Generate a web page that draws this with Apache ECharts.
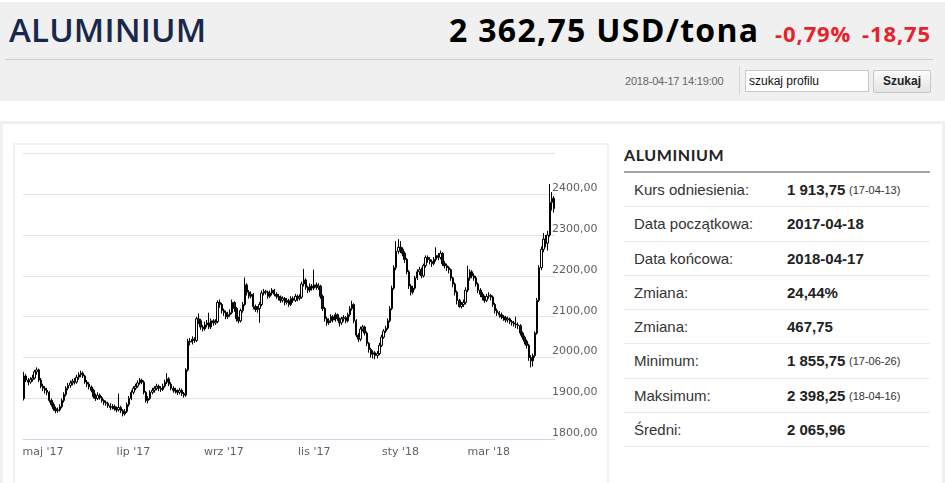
<!DOCTYPE html>
<html>
<head>
<meta charset="utf-8">
<script src="https://cdn.jsdelivr.net/npm/echarts@6/dist/echarts.min.js"></script>
<style>
html,body{margin:0;padding:0;background:#fff;}
body{width:945px;height:483px;overflow:hidden;position:relative;font-family:"Liberation Sans",Arial,sans-serif;}
.abs{position:absolute;}
#hdr{left:0;top:2px;width:945px;height:99px;background:#f0f0f0;}
#title{left:9px;top:9px;font-family:"Open Sans";font-weight:600;font-size:33px;line-height:42px;color:#18284a;letter-spacing:0.2px;}
#price{left:449px;top:8px;font-family:"Open Sans";font-weight:700;font-size:32px;line-height:44px;color:#000;letter-spacing:1.3px;white-space:nowrap;}
.red{font-family:"Open Sans";font-weight:700;font-size:22px;line-height:30px;color:#e8212b;white-space:nowrap;letter-spacing:0.9px;}
#sep{left:5px;top:59px;width:928px;height:1px;background:#d0d0d0;}
#time{left:625px;top:74px;font-size:11px;line-height:14px;color:#666;letter-spacing:-0.2px;}
#vdiv{left:739px;top:66px;width:1px;height:29px;background:#d6d6d6;}
#inp{left:745px;top:70px;width:124px;height:22px;box-sizing:border-box;border:1px solid #c8c8c8;background:#fff;font-size:12px;line-height:20px;padding-left:3px;color:#111;}
#btn{left:873px;top:70px;width:58px;height:23px;box-sizing:border-box;border:1px solid #c6c6c6;border-radius:2px;background:linear-gradient(#fbfbfb,#e4e4e4);font-size:12px;font-weight:bold;line-height:21px;text-align:center;color:#222;}
#card{left:0;top:121px;width:945px;height:420px;box-sizing:border-box;border:3px solid #f0f0f0;}
#cbox{left:13px;top:143px;width:596px;height:400px;box-sizing:border-box;border:2px solid #f1f1f1;}
#chart{left:15px;top:145px;width:592px;height:338px;}
#ptitle{left:624px;top:147px;font-family:Lato;font-weight:700;font-size:16px;line-height:16px;color:#222;letter-spacing:0.6px;}
#pline{left:624px;top:171px;width:306px;height:2px;background:#a6a6a6;}
#rows{left:624px;top:173px;width:306px;}
.row{position:relative;height:34.3px;box-sizing:border-box;border-bottom:1px solid #ebebeb;font-size:15px;line-height:34px;color:#333;}
.row .l{position:absolute;left:10px;top:0;}
.row .v{position:absolute;left:163px;top:0;font-weight:bold;color:#222;}
.row .d{position:absolute;left:225px;top:0;font-size:11px;color:#333;}
</style>
</head>
<body>
<div id="hdr" class="abs"></div>
<div id="title" class="abs">ALUMINIUM</div>
<div id="price" class="abs">2 362,75 USD/tona</div>
<div class="abs red" style="left:775px;top:18px;">-0,79%</div>
<div class="abs red" style="left:862px;top:18px;">-18,75</div>
<div id="sep" class="abs"></div>
<div id="time" class="abs">2018-04-17 14:19:00</div>
<div id="vdiv" class="abs"></div>
<div id="inp" class="abs">szukaj profilu</div>
<div id="btn" class="abs">Szukaj</div>
<div id="card" class="abs"></div>
<div id="cbox" class="abs"></div>
<div id="chart" class="abs"></div>
<div id="ptitle" class="abs">ALUMINIUM</div>
<div id="pline" class="abs"></div>
<div id="rows" class="abs"></div>
<script>
// ---- data ----
var startDate = '2017-04-18';
var endDate = '2018-04-17';
var holidays = ['2017-05-01','2017-05-29','2017-08-28','2017-12-25','2017-12-26','2018-01-01','2018-03-30','2018-04-02'];
var monthNames = ['sty','lut','mar','kwi','maj','cze','lip','sie','wrz','paź','lis','gru'];
var labelMonths = [4,6,8,10,0,2];
var yMin = 1800, yMax = 2500, yStep = 100;
// [open, close, low, high] per trading day
var candles = [
[1900,1955,1895,1965],[1955,1945,1940,1960],[1945,1940,1932,1950],[1940,1946,1936,1952],[1946,1950,1941,1958],
[1950,1965,1946,1970],[1965,1970,1958,1976],[1970,1945,1940,1973],[1945,1930,1925,1950],[1930,1925,1918,1936],
[1925,1920,1912,1930],[1920,1915,1908,1926],[1915,1895,1890,1918],[1895,1885,1880,1900],[1885,1875,1870,1890],
[1875,1870,1864,1880],[1870,1872,1865,1878],[1872,1880,1868,1886],[1880,1895,1876,1900],[1895,1910,1890,1915],
[1910,1925,1905,1930],[1925,1932,1920,1938],[1932,1938,1926,1944],[1938,1942,1932,1948],[1942,1940,1934,1950],
[1940,1952,1936,1958],[1952,1958,1946,1964],[1958,1962,1952,1968],[1962,1955,1950,1966],[1955,1940,1936,1958],
[1940,1935,1928,1945],[1935,1928,1922,1940],[1928,1920,1915,1932],[1920,1905,1900,1924],[1905,1900,1894,1912],
[1900,1908,1896,1915],[1908,1902,1897,1912],[1902,1895,1890,1906],[1895,1890,1884,1898],[1890,1888,1882,1895],
[1888,1882,1877,1892],[1882,1878,1872,1888],[1878,1880,1873,1886],[1880,1875,1870,1885],[1875,1872,1866,1880],
[1872,1878,1868,1912],[1878,1870,1864,1882],[1870,1862,1856,1874],[1862,1868,1858,1874],[1868,1885,1864,1890],
[1885,1900,1880,1906],[1900,1915,1896,1920],[1915,1925,1910,1930],[1925,1930,1920,1936],[1930,1938,1926,1944],
[1938,1945,1934,1950],[1945,1940,1935,1948],[1940,1915,1910,1944],[1915,1895,1890,1918],[1895,1900,1888,1906],
[1900,1915,1896,1920],[1915,1920,1910,1926],[1920,1925,1914,1930],[1925,1930,1920,1936],[1930,1925,1918,1934],
[1925,1922,1916,1930],[1922,1930,1918,1936],[1930,1940,1926,1946],[1940,1948,1935,1962],[1948,1935,1930,1952],
[1935,1925,1920,1940],[1925,1920,1914,1930],[1920,1918,1912,1926],[1918,1915,1908,1922],[1915,1920,1910,1926],
[1920,1912,1906,1924],[1912,1908,1902,1916],[1908,1970,1904,1974],[1970,2040,1966,2046],[2040,2038,2030,2048],
[2038,2045,2032,2052],[2045,2042,2036,2050],[2042,2095,2038,2100],[2095,2090,2082,2108],[2090,2075,2068,2095],
[2075,2070,2064,2080],[2070,2080,2066,2088],[2080,2085,2074,2092],[2085,2075,2070,2110],[2075,2090,2070,2096],
[2090,2085,2078,2094],[2085,2088,2080,2094],[2088,2135,2084,2140],[2135,2130,2122,2142],[2130,2115,2108,2134],
[2115,2110,2102,2120],[2110,2100,2094,2115],[2100,2105,2095,2112],[2105,2110,2100,2118],[2110,2135,2106,2142],
[2135,2120,2112,2138],[2120,2095,2088,2124],[2095,2090,2084,2100],[2090,2115,2086,2120],[2115,2130,2110,2136],
[2130,2178,2126,2196],[2178,2160,2152,2182],[2160,2150,2144,2165],[2150,2155,2145,2162],[2155,2125,2118,2158],
[2125,2118,2112,2130],[2118,2120,2110,2126],[2120,2130,2085,2136],[2130,2158,2126,2164],[2158,2162,2152,2168],
[2162,2160,2154,2166],[2160,2150,2144,2164],[2150,2158,2146,2164],[2158,2165,2152,2170],[2165,2155,2150,2168],
[2155,2150,2144,2160],[2150,2148,2140,2156],[2148,2140,2134,2152],[2140,2145,2135,2150],[2145,2135,2128,2148],
[2135,2140,2130,2146],[2140,2130,2124,2144],[2130,2145,2126,2150],[2145,2140,2134,2150],[2140,2150,2136,2156],
[2150,2145,2138,2154],[2145,2148,2140,2155],[2148,2180,2144,2186],[2180,2190,2174,2217],[2190,2172,2166,2194],
[2172,2165,2158,2176],[2165,2175,2160,2182],[2175,2170,2164,2180],[2170,2178,2165,2215],[2178,2172,2166,2184],
[2172,2175,2166,2182],[2175,2150,2144,2178],[2150,2120,2114,2154],[2120,2095,2088,2124],[2095,2085,2078,2100],
[2085,2090,2080,2096],[2090,2100,2085,2106],[2100,2092,2086,2104],[2092,2105,2088,2110],[2105,2095,2090,2108],
[2095,2085,2076,2098],[2085,2095,2080,2100],[2095,2098,2088,2104],[2098,2090,2084,2102],[2090,2105,2086,2110],
[2105,2120,2100,2126],[2120,2130,2115,2139],[2130,2090,2084,2133],[2090,2055,2050,2094],[2055,2045,2038,2060],
[2045,2070,2040,2076],[2070,2075,2064,2080],[2075,2060,2054,2078],[2060,2035,2028,2064],[2035,2020,2012,2038],
[2020,2008,2000,2024],[2008,2012,1998,2018],[2012,2005,1996,2016],[2005,2010,1998,2016],[2010,2030,2006,2036],
[2030,2050,2026,2056],[2050,2065,2046,2070],[2065,2072,2060,2078],[2072,2090,2068,2096],[2090,2120,2086,2126],
[2120,2170,2116,2176],[2170,2220,2166,2226],[2220,2260,2214,2285],[2260,2270,2254,2290],[2270,2265,2256,2285],
[2265,2255,2248,2270],[2255,2240,2232,2260],[2240,2210,2204,2244],[2210,2175,2168,2214],[2175,2160,2152,2180],
[2160,2170,2155,2176],[2170,2195,2166,2200],[2195,2210,2190,2216],[2210,2215,2202,2222],[2215,2200,2194,2220],
[2200,2225,2196,2230],[2225,2245,2220,2250],[2245,2240,2232,2250],[2240,2235,2228,2246],[2235,2230,2222,2240],
[2230,2240,2226,2246],[2240,2250,2235,2270],[2250,2245,2238,2256],[2245,2255,2240,2262],[2255,2230,2224,2258],
[2230,2225,2218,2236],[2225,2220,2212,2230],[2220,2215,2206,2224],[2215,2195,2188,2218],[2195,2180,2172,2198],
[2180,2160,2152,2184],[2160,2140,2130,2164],[2140,2125,2122,2144],[2125,2130,2120,2136],[2130,2135,2124,2142],
[2135,2165,2130,2172],[2165,2195,2160,2225],[2195,2210,2188,2216],[2210,2200,2194,2214],[2200,2195,2188,2206],
[2195,2180,2174,2200],[2180,2165,2158,2184],[2165,2155,2148,2170],[2155,2148,2140,2160],[2148,2140,2134,2152],
[2140,2150,2136,2156],[2150,2152,2144,2160],[2152,2148,2140,2156],[2148,2130,2124,2152],[2130,2115,2108,2134],
[2115,2110,2102,2120],[2110,2105,2098,2114],[2105,2100,2094,2110],[2100,2098,2090,2104],[2098,2092,2086,2102],
[2092,2095,2086,2100],[2095,2088,2082,2098],[2088,2085,2078,2092],[2085,2082,2076,2090],[2082,2080,2072,2100],
[2080,2078,2070,2086],[2078,2060,2054,2082],[2060,2050,2044,2064],[2050,2040,2032,2054],[2040,2030,2022,2044],
[2030,2000,1992,2034],[2000,1992,1976,2006],[1992,2005,1978,2010],[2005,2060,2000,2064],[2060,2140,2056,2146],
[2140,2220,2136,2226],[2220,2265,2214,2272],[2265,2290,2258,2305],[2290,2280,2270,2300],[2280,2300,2262,2310],
[2300,2380,2296,2425],[2380,2390,2360,2405],[2390,2365,2355,2395]
];
var statLabels = ['Kurs odniesienia:','Data początkowa:','Data końcowa:','Zmiana:','Zmiana:','Minimum:','Maksimum:','Średni:'];
var statValues = ['1 913,75','2017-04-18','2018-04-17','24,44%','467,75','1 855,75','2 398,25','2 065,96'];
var statDates  = ['(17-04-13)','','','','','(17-06-26)','(18-04-16)',''];

// ---- side table ----
var rowsEl = document.getElementById('rows');
statLabels.forEach(function(l,i){
  var r = document.createElement('div'); r.className='row';
  r.innerHTML = '<span class="l">'+l+'</span><span class="v">'+statValues[i]+'</span>' +
    (statDates[i] ? '<span class="d">'+statDates[i]+'</span>' : '');
  rowsEl.appendChild(r);
});

// ---- trading-day categories ----
function pad(n){return (n<10?'0':'')+n;}
var dates = [];
var d = new Date(startDate+'T12:00:00Z'), e = new Date(endDate+'T12:00:00Z');
while (d <= e) {
  var s = d.getUTCFullYear()+'-'+pad(d.getUTCMonth()+1)+'-'+pad(d.getUTCDate());
  var wd = d.getUTCDay();
  if (wd !== 0 && wd !== 6 && holidays.indexOf(s) < 0) dates.push(s);
  d = new Date(d.getTime()+86400000);
}
var tickIdx = {};
for (var i = 1; i < dates.length; i++) {
  var m = +dates[i].slice(5,7)-1, pm = +dates[i-1].slice(5,7)-1;
  if (m !== pm && labelMonths.indexOf(m) >= 0) tickIdx[i] = true;
}
function isTick(idx){ return !!tickIdx[idx]; }

var chart = echarts.init(document.getElementById('chart'), null, {renderer:'canvas'});
chart.setOption({
  animation:false,
  grid:{left:8, top:8.3, width:532, height:286},
  xAxis:{
    type:'category', data:dates, boundaryGap:true,
    axisLine:{lineStyle:{color:'#ccd6eb', width:1}},
    axisTick:{alignWithLabel:true, length:10, interval:isTick, lineStyle:{color:'#ccd6eb'}},
    axisLabel:{interval:isTick, margin:7, color:'#606060', fontSize:11, fontFamily:'DejaVu Sans',
      formatter:function(v){ return monthNames[+v.slice(5,7)-1]+" '"+v.slice(2,4); }},
    splitLine:{show:false}
  },
  yAxis:{
    type:'value', position:'right', min:yMin, max:yMax, interval:yStep, scale:true,
    axisLine:{show:false}, axisTick:{show:false},
    splitLine:{lineStyle:{color:'#e3e3e3', width:1}},
    axisLabel:{margin:-3, color:'#606060', fontSize:11, fontFamily:'DejaVu Sans', verticalAlign:'bottom', lineHeight:12,
      formatter:function(v){ return v === yMax ? '' : v.toFixed(2).replace('.',','); }}
  },
  series:[{
    type:'candlestick', data:candles, barWidth:1.9,
    itemStyle:{color:'#ffffff', color0:'#0d1a30', borderColor:'#000000', borderColor0:'#000000', borderWidth:1}
  }]
});
</script>
</body>
</html>
